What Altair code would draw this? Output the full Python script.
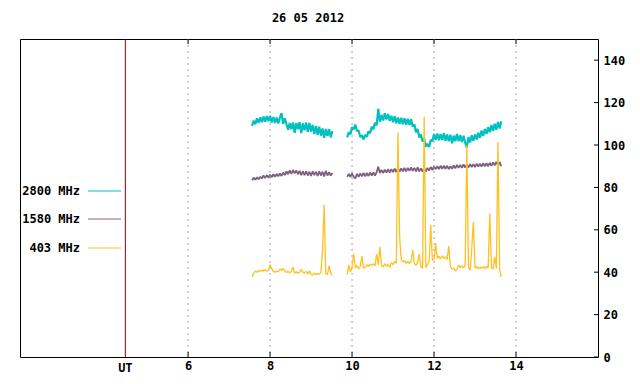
import altair as alt
import pandas as pd

# ---- data ----
seg1_start, seg1_step = 7.56, 0.04
seg2_start, seg2_step = 9.88, 0.04

mhz2800_seg1 = [109.0, 111.5, 109.8, 112.6, 110.4, 113.0, 110.8, 113.4, 111.0, 113.6,
                111.2, 113.8, 110.6, 113.2, 110.4, 113.0, 110.2, 112.8, 115.0, 110.0,
                112.6, 109.8, 107.2, 110.4, 107.4, 110.6, 105.8, 110.4, 107.4, 110.8,
                105.6, 110.2, 107.0, 110.6, 106.2, 110.4, 106.4, 109.4, 105.2, 109.0,
                104.8, 108.6, 104.4, 107.8, 103.4, 107.6, 104.2, 107.4, 103.6, 106.6]
mhz1580_seg1 = [83.4, 84.6, 83.6, 84.8, 83.8, 85.0, 84.2, 85.6, 84.4, 85.8,
                84.6, 86.0, 84.8, 86.2, 85.0, 86.4, 85.2, 86.6, 85.4, 87.0,
                85.8, 87.6, 86.2, 88.0, 86.4, 88.2, 86.6, 88.0, 86.2, 87.8,
                85.8, 87.6, 85.8, 87.6, 85.6, 87.4, 85.4, 87.6, 85.8, 87.4,
                85.4, 87.6, 85.6, 87.4, 85.2, 87.8, 85.6, 87.2, 85.6, 86.8]
mhz403_seg1 = [37.8, 39.5, 40.6, 40.0, 40.8, 40.3, 41.0, 40.5, 41.2, 40.4,
               41.0, 43.5, 41.8, 40.4, 40.0, 40.5, 40.2, 41.5, 40.8, 41.8,
               40.6, 39.8, 40.5, 39.6, 40.4, 42.5, 39.5, 40.2, 39.4, 40.0,
               41.2, 40.0, 39.6, 40.4, 39.2, 40.6, 39.0, 38.6, 39.6, 38.8,
               39.5, 39.0, 39.8, 50.4, 71.7, 39.2, 39.0, 43.0, 39.5, 38.6]

mhz2800_seg2 = [103.6, 106.0, 105.0, 108.4, 107.4, 109.6, 106.6, 106.8, 103.8, 104.6,
                102.6, 104.8, 103.8, 106.4, 105.6, 108.6, 107.4, 110.6, 109.2, 117.0,
                111.0, 114.2, 111.6, 115.0, 112.0, 114.6, 111.4, 113.8, 110.8, 113.6,
                110.2, 113.0, 110.0, 112.8, 109.8, 112.6, 109.6, 112.4, 109.4, 112.2,
                108.6, 109.8, 106.0, 107.6, 103.6, 105.0, 101.6, 103.0, 99.2, 100.6,
                99.0, 102.4, 101.8, 105.2, 102.4, 105.4, 102.2, 105.2, 102.4, 105.6,
                102.0, 105.0, 101.8, 104.8, 100.8, 104.4, 101.8, 105.2, 101.8, 104.6,
                101.4, 104.4, 101.2, 98.8, 103.8, 101.2, 104.6, 102.0, 105.0, 102.6,
                105.8, 103.4, 106.8, 104.4, 107.6, 105.2, 108.4, 106.0, 109.4, 106.6,
                110.0, 107.2, 110.8, 107.8, 111.2]
mhz1580_seg2 = [85.0, 86.4, 85.0, 86.6, 85.0, 84.2, 86.4, 85.0, 86.6, 85.2,
                86.8, 85.2, 86.8, 85.4, 87.0, 85.6, 87.0, 85.6, 87.2, 89.8,
                86.8, 88.2, 86.8, 88.4, 87.0, 88.6, 87.0, 88.6, 87.2, 88.8,
                87.2, 89.0, 87.4, 89.0, 87.6, 89.2, 87.6, 89.2, 87.8, 89.4,
                87.8, 89.2, 87.6, 89.4, 87.6, 89.0, 87.4, 89.0, 87.4, 89.2,
                88.0, 89.6, 88.2, 89.8, 88.6, 90.0, 88.6, 90.2, 88.8, 90.2,
                88.8, 90.2, 88.6, 90.0, 88.8, 90.4, 89.0, 90.6, 89.2, 90.6,
                89.2, 90.8, 89.4, 90.8, 89.4, 91.0, 89.6, 91.0, 89.6, 91.2,
                89.8, 91.2, 89.8, 91.4, 90.0, 91.4, 90.0, 91.6, 90.2, 91.8,
                90.4, 92.0, 90.4, 92.0, 90.0]
mhz403_seg2 = [39.0, 43.5, 40.2, 42.5, 48.8, 42.0, 43.2, 41.5, 42.8, 47.6,
               41.8, 42.5, 43.5, 42.8, 43.8, 43.2, 44.0, 43.0, 48.6, 43.5,
               52.0, 43.2, 42.5, 44.0, 42.8, 43.6, 42.2, 44.5, 43.5, 45.0,
               44.2, 106.0, 57.0, 46.0, 44.8, 45.5, 44.2, 45.2, 44.0, 45.0,
               50.4, 44.0, 43.2, 44.5, 48.6, 42.5, 41.8, 113.3, 42.2, 43.5,
               45.2, 62.2, 45.5, 46.0, 53.6, 46.5, 47.5, 46.2, 47.8, 46.5,
               47.2, 46.0, 52.3, 42.6, 41.5, 42.0, 40.6, 41.2, 43.4, 42.2,
               43.0, 42.0, 43.2, 100.0, 42.5, 40.8, 51.2, 63.8, 41.8, 42.8,
               41.6, 42.4, 41.8, 42.6, 41.6, 42.8, 42.0, 67.7, 42.2, 41.5,
               47.3, 41.6, 101.5, 41.0, 37.8]

series_names = ["2800 MHz", "1580 MHz", "403 MHz"]
series_colors = ["#00c0c0", "#806080", "#ffc020"]
series_widths = [2.2, 1.8, 1.3]
x_tick_values = [6, 8, 10, 12, 14]
y_tick_values = [0, 20, 40, 60, 80, 100, 120, 140]
ut_position = 4.47
title_text = "26 05 2012"

# ---- build table ----
rows = []
for name, s1, s2 in [(series_names[0], mhz2800_seg1, mhz2800_seg2),
                     (series_names[1], mhz1580_seg1, mhz1580_seg2),
                     (series_names[2], mhz403_seg1, mhz403_seg2)]:
    for i, v in enumerate(s1):
        rows.append({"t": round(seg1_start + seg1_step * i, 4), "v": v, "series": name, "seg": 1})
    for i, v in enumerate(s2):
        rows.append({"t": round(seg2_start + seg2_step * i, 4), "v": v, "series": name, "seg": 2})
df = pd.DataFrame(rows)

W, H = 578, 318
FONT = "DejaVu Sans Mono"

xscale = alt.Scale(domain=[1.9, 16.0], nice=False, zero=False)
yscale = alt.Scale(domain=[0, 150], nice=False)
xaxis = alt.Axis(values=x_tick_values, ticks=False, domain=False, grid=False, title=None,
                 labelFont=FONT, labelFontSize=12, labelFontWeight="bold", labelColor="black",
                 labelPadding=8, labelBaseline="middle", labelAngle=0)
yaxis = alt.Axis(orient="right", values=y_tick_values, ticks=False, domain=False, grid=False,
                 title=None, labelFont=FONT, labelFontSize=12, labelFontWeight="bold",
                 labelColor="black", labelPadding=5, labelAlign="left", labelBaseline="middle")

xt = pd.DataFrame({"x": x_tick_values})
yt = pd.DataFrame({"y": y_tick_values})

grid = alt.Chart(xt).mark_rule(color="#a0a0a0", strokeDash=[2, 4], strokeWidth=1).encode(
    x=alt.X("x:Q", scale=xscale, axis=xaxis))
bticks = alt.Chart(xt).mark_rule(color="black", strokeWidth=1).encode(
    x=alt.X("x:Q", scale=xscale, axis=xaxis), y=alt.value(H), y2=alt.value(H - 5))
tticks = alt.Chart(xt).mark_rule(color="black", strokeWidth=1).encode(
    x=alt.X("x:Q", scale=xscale, axis=xaxis), y=alt.value(0), y2=alt.value(5))
rticks = alt.Chart(yt).mark_rule(color="black", strokeWidth=1).encode(
    y=alt.Y("y:Q", scale=yscale, axis=yaxis), x=alt.value(W - 4), x2=alt.value(W))

ut_df = pd.DataFrame({"x": [ut_position], "label": ["UT"]})
ut_rule = alt.Chart(ut_df).mark_rule(color="#8b0000", strokeWidth=1).encode(
    x=alt.X("x:Q", scale=xscale, axis=xaxis))
ut_text = alt.Chart(ut_df).mark_text(font=FONT, fontSize=12, fontWeight="bold", color="black",
                                     baseline="middle", align="center").encode(
    x=alt.X("x:Q", scale=xscale, axis=xaxis), y=alt.value(H + 11), text="label:N")

lines = []
for name, col, sw in zip(series_names, series_colors, series_widths):
    lines.append(alt.Chart(df[df.series == name]).mark_line(
        color=col, strokeWidth=sw, strokeJoin="bevel").encode(
        x=alt.X("t:Q", scale=xscale, axis=xaxis),
        y=alt.Y("v:Q", scale=yscale, axis=yaxis),
        detail="seg:N"))

leg_y = [152, 180, 209]
legend_layers = []
for name, col, yy in zip(series_names, series_colors, leg_y):
    ldf = pd.DataFrame({"label": [name]})
    legend_layers.append(alt.Chart(ldf).mark_text(font=FONT, fontSize=12, fontWeight="bold",
                                                  color="black", align="right", baseline="middle").encode(
        x=alt.value(60), y=alt.value(yy), text="label:N"))
    legend_layers.append(alt.Chart(ldf).mark_rule(color=col, strokeWidth=1).encode(
        x=alt.value(68), x2=alt.value(101), y=alt.value(yy)))

title = alt.Chart(pd.DataFrame({"label": [title_text]})).mark_text(
    font=FONT, fontSize=12, fontWeight="bold", color="black", align="center", baseline="middle").encode(
    x=alt.value(288), y=alt.value(-21), text="label:N")

chart = alt.layer(grid, bticks, tticks, rticks, ut_rule, *lines, ut_text, *legend_layers, title).properties(
    width=W, height=H,
    autosize=alt.AutoSizeParams(type="none"),
    padding={"left": 12, "top": 31, "right": 34, "bottom": 19},
    background="white",
).configure_view(stroke="black", strokeWidth=1)

chart.save("out.html", embed_options={"renderer": "svg", "actions": False})
